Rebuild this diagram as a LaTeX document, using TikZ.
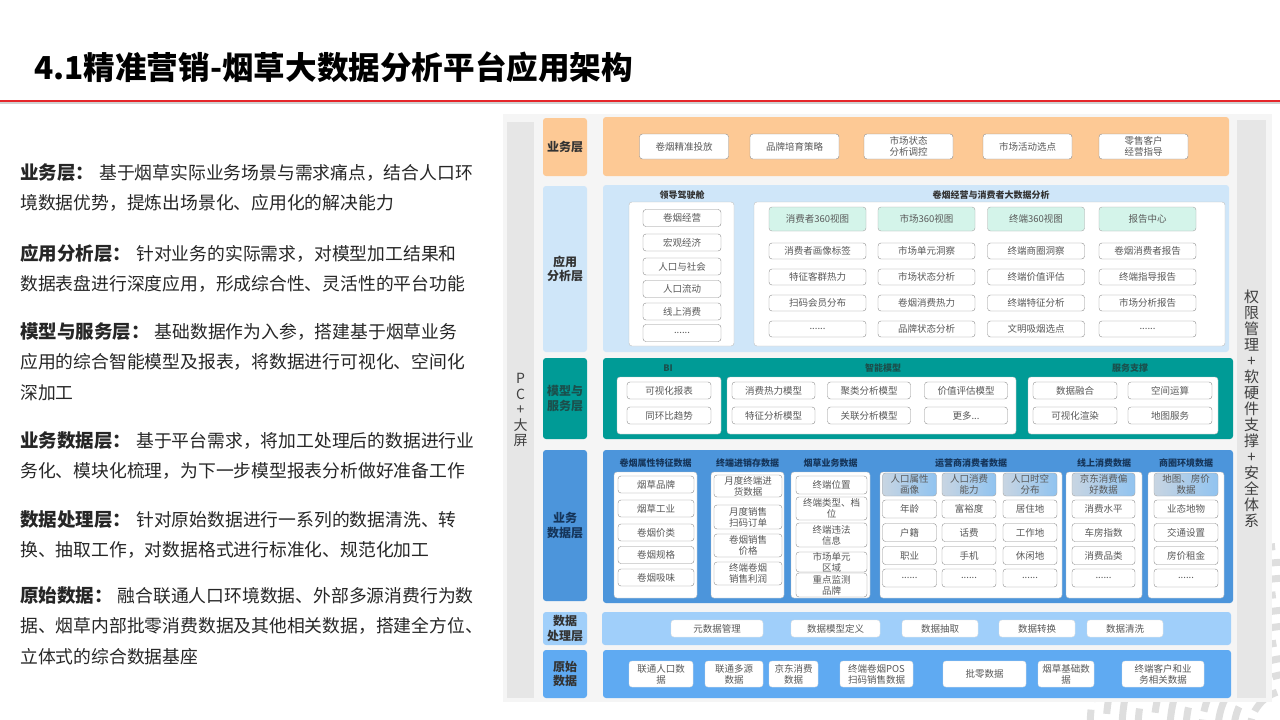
\documentclass[tikz,border=0pt]{standalone}
\usepackage{fontspec}
\setmainfont{Noto Sans CJK SC}
\usetikzlibrary{positioning}

\definecolor{bizorange}{HTML}{FDC995}
\definecolor{applight}{HTML}{CFE6F9}
\definecolor{mint}{HTML}{D4F4EA}
\definecolor{modteal}{HTML}{009B96}
\definecolor{modtext}{HTML}{1B4F4C}
\definecolor{datablue}{HTML}{4C95DB}
\definecolor{datatext}{HTML}{15355A}
\definecolor{proclight}{HTML}{A0CFFA}
\definecolor{rawblue}{HTML}{5FAAF2}
\definecolor{barfill}{HTML}{E6E6E6}
\definecolor{panelbg}{HTML}{F5F5F5}
\definecolor{titlered}{HTML}{E5252A}
\definecolor{headleft}{HTML}{C8D5E2}
\definecolor{headright}{HTML}{90C3F0}

\newcommand{\parhead}[1]{{\bfseries\fontsize{18.5}{30.5}\selectfont #1}\hspace{5pt}}
% dots kept out of \foreach lists
\newcommand{\sixdots}{......}
\newcommand{\threedots}{...}

\begin{document}
\begin{tikzpicture}[
        x=1pt, y=-1pt,
        band/.style={fill=#1, rounded corners=3pt, inner sep=0pt},
        laylab/.style={
            fill=#1,
            rounded corners=3pt,
            minimum width=44,
            inner sep=0pt,
            align=center,
            font=\bfseries\fontsize{12}{14.5}\selectfont
        },
        panel/.style={fill=white, draw=black!25, rounded corners=3pt, inner sep=0pt},
        cell/.style={
            fill=white,
            draw=black!45,
            rounded corners=3pt,
            inner sep=0pt,
            align=center,
            text=black!65,
            minimum height=17,
            font=\fontsize{9.5}{11}\selectfont
        },
        headcell/.style={cell, draw=black!35, left color=headleft, right color=headright},
        mintcell/.style={cell, fill=mint, draw=black!35, minimum height=24},
        grp/.style={font=\bfseries\fontsize{9}{10}\selectfont, text=#1},
        sidebar/.style={fill=barfill, inner sep=0pt, align=center, text=black!75},
        para/.style={
            anchor=north west,
            inner sep=0pt,
            align=left,
            text=black!85,
            font=\fontsize{17.8}{30.5}\selectfont
        }
    ]
    \useasboundingbox (0,0) rectangle (1280,720);

    % heading
    \node[anchor=west, inner sep=0pt, font=\bfseries\fontsize{31.6}{34}\selectfont] (title) at (34,67)
        {4.1精准营销-烟草大数据分析平台应用架构};
    \draw[black!18, line width=2.5] (0,103) -- (1280,103);
    \draw[titlered, line width=2] (0,100.5) -- (1280,100.5);

    % corner ornament
    \begin{scope}
        \clip (1080,540) rectangle (1280,720);
        \foreach \r in {40,56,...,200}
            \draw[black!13, line width=7, dash pattern=on 30pt off 8pt] (1290,730) circle[radius=\r pt];
    \end{scope}

    % left description
    \node[para] (txtbiz) at (20,163)
        {\parhead{业务层：}基于烟草实际业务场景与需求痛点，结合人口环\\境数据优势，提炼出场景化、应用化的解决能力};
    \node[para] (txtapp) at (20,244)
        {\parhead{应用分析层：}针对业务的实际需求，对模型加工结果和\\数据表盘进行深度应用，形成综合性、灵活性的平台功能};
    \node[para] (txtmod) at (20,322)
        {\parhead{模型与服务层：}基础数据作为入参，搭建基于烟草业务\\应用的综合智能模型及报表，将数据进行可视化、空间化\\深加工};
    \node[para] (txtdata) at (20,431)
        {\parhead{业务数据层：}基于平台需求，将加工处理后的数据进行业\\务化、模块化梳理，为下一步模型报表分析做好准备工作};
    \node[para] (txtproc) at (20,510)
        {\parhead{数据处理层：}针对原始数据进行一系列的数据清洗、转\\换、抽取工作，对数据格式进行标准化、规范化加工};
    \node[para] (txtraw) at (20,586)
        {\parhead{原始数据：}融合联通人口环境数据、外部多源消费行为数\\据、烟草内部批零消费数据及其他相关数据，搭建全方位、\\立体式的综合数据基座};

    % architecture frame
    \fill[panelbg] (503,114) rectangle (1272,702);
    \node[sidebar, minimum width=27, minimum height=576, font=\fontsize{14}{15.5}\selectfont] (pcbar)
        at (520.5,410) {P\\C\\+\\大\\屏};
    \node[sidebar, minimum width=29, minimum height=578, font=\fontsize{15}{16}\selectfont] (secbar)
        at (1251.5,409) {权\\限\\管\\理\\+\\软\\硬\\件\\支\\撑\\+\\安\\全\\体\\系};

    % layer labels and bands
    \foreach \y/\h/\c/\tc/\t [count=\i] in {147/58/bizorange/black!80/业务层,
            269/166/applight/black!80/{应用\\分析层},
            398.5/81/modteal/modtext/{模型与\\服务层},
            525.5/151/datablue/datatext/{业务\\数据层},
            628.5/33/proclight/black!80/{数据\\处理层},
            674/48/rawblue/black!80/{原始\\数据}}
        \node[laylab=\c, text=\tc, minimum height=\h] (lay\i) at (565,\y) {\t};

    \foreach \x/\y/\w/\h/\c [count=\i] in {916/146.5/626/59/bizorange,
            916/268.5/626/167/applight,
            918/398.5/630/81/modteal,
            918/526.5/630/153/datablue,
            916.5/628.5/629/33/proclight,
            917/674/628/48/rawblue}
        \node[band=\c, minimum width=\w, minimum height=\h] (band\i) at (\x,\y) {};

    % business layer
    \foreach \x/\t [count=\i] in {684/卷烟精准投放, 794.5/品牌培育策略, 908.5/{市场状态\\分析调控},
            1027.5/市场活动选点, 1143.5/{零售客户\\经营指导}}
        \node[cell, minimum width=89, minimum height=25] (biz\i) at (\x,146.5) {\t};

    % application analysis layer
    \node[grp=black!80] (cockpitt) at (682,195) {领导驾驶舱};
    \node[panel, minimum width=105, minimum height=144] (cockpit) at (681.5,274) {};
    \foreach \y/\t [count=\i] in {218/卷烟经营, 242.5/宏观经济, 266.5/人口与社会,
            289/人口流动, 311.5/线上消费, 333/\sixdots}
        \node[cell, minimum width=78] (cp\i) at (682,\y) {\t};

    \node[grp=black!80] (bigdatat) at (991,195) {卷烟经营与消费者大数据分析};
    \node[panel, minimum width=471, minimum height=144] (bigdata) at (989.5,274) {};
    \foreach \x/\a/\b/\c/\d/\e [count=\i] in {
            817.5/消费者360视图/消费者画像标签/特征客群热力/扫码会员分布/\sixdots,
            926.5/市场360视图/市场单元洞察/市场状态分析/卷烟消费热力/品牌状态分析,
            1036/终端360视图/终端商圈洞察/终端价值评估/终端特征分析/文明吸烟选点,
            1147.5/报告中心/卷烟消费者报告/终端指导报告/市场分析报告/\sixdots} {
        \node[mintcell, minimum width=97] (an\i-0) at (\x,219) {\a};
        \node[cell, minimum width=97, minimum height=16] (an\i-1) at (\x,251) {\b};
        \node[cell, minimum width=97, minimum height=16] (an\i-2) at (\x,277) {\c};
        \node[cell, minimum width=97, minimum height=16] (an\i-3) at (\x,303) {\d};
        \node[cell, minimum width=97, minimum height=16] (an\i-4) at (\x,329) {\e};
    }

    % model and service layer
    \node[grp=modtext] (bit) at (668,368) {BI};
    \node[grp=modtext] (smartt) at (883,368) {智能模型};
    \node[grp=modtext] (servt) at (1130,368) {服务支撑};
    \node[panel, minimum width=104, minimum height=57] (bi) at (669,405.5) {};
    \node[panel, minimum width=289, minimum height=57] (smart) at (871.5,405.5) {};
    \node[panel, minimum width=190, minimum height=57] (serv) at (1123,405.5) {};
    \node[cell, minimum width=84] (bi1) at (669,390.5) {可视化报表};
    \node[cell, minimum width=84] (bi2) at (669,415.5) {同环比趋势};
    \foreach \x/\a/\b [count=\i] in {773.5/消费热力模型/特征分析模型, 869/聚类分析模型/关联分析模型,
            966/价值评估模型/更多\threedots} {
        \node[cell, minimum width=83] (sm\i-1) at (\x,390.5) {\a};
        \node[cell, minimum width=83] (sm\i-2) at (\x,415.5) {\b};
    }
    \foreach \x/\a/\b [count=\i] in {1075/数据融合/可视化渲染, 1170/空间运算/地图服务} {
        \node[cell, minimum width=84] (sv\i-1) at (\x,390.5) {\a};
        \node[cell, minimum width=84] (sv\i-2) at (\x,415.5) {\b};
    }

    % business data layer
    \foreach \x/\w/\t [count=\i] in {655.5/83/卷烟属性特征数据, 747.5/73/终端进销存数据, 830.5/79/烟草业务数据,
            971/182/运营商消费者数据, 1104/76/线上消费数据, 1186/76/商圈环境数据} {
        \node[grp=datatext] (grp\i t) at (\x,463) {\t};
        \node[panel, minimum width=\w, minimum height=126] (grp\i) at (\x,535) {};
    }
    \foreach \y/\t [count=\i] in {484.5/烟草品牌, 508.5/烟草工业, 532.5/卷烟价类, 555/卷烟规格, 577.5/卷烟吸味}
        \node[cell, minimum width=76] (ga\i) at (656,\y) {\t};
    \foreach \y/\h/\t [count=\i] in {486/22/{月度终端进\\货数据}, 517/24/{月度销售\\扫码订单},
            545.5/23/{卷烟销售\\价格}, 573.5/23/{终端卷烟\\销售利润}}
        \node[cell, minimum width=68, minimum height=\h] (gb\i) at (748,\y) {\t};
    \foreach \y/\h/\t [count=\i] in {485/18/终端位置, 508.5/23/{终端类型、档\\位}, 535/24/{终端违法\\信息},
            562/20/{市场单元\\区域}, 585/24/{重点监测\\品牌}}
        \node[cell, minimum width=71, minimum height=\h] (gc\i) at (831.5,\y) {\t};
    \foreach \x/\w/\a/\b/\c/\d [count=\i] in {909.5/54/{人口属性\\画像}/年龄/户籍/职业,
            969/54/{人口消费\\能力}/富裕度/话费/手机,
            1030/54/{人口时空\\分布}/居住地/工作地/休闲地,
            1103.5/63/{京东消费偏\\好数据}/消费水平/车房指数/消费品类,
            1186/64/{地图、房价\\数据}/业态地物/交通设置/房价租金} {
        \node[headcell, minimum width=\w, minimum height=23] (gd\i-0) at (\x,484.5) {\a};
        \node[cell, minimum width=\w, minimum height=18] (gd\i-1) at (\x,509) {\b};
        \node[cell, minimum width=\w, minimum height=18] (gd\i-2) at (\x,532.5) {\c};
        \node[cell, minimum width=\w, minimum height=18] (gd\i-3) at (\x,555.5) {\d};
        \node[cell, minimum width=\w, minimum height=18] (gd\i-4) at (\x,578) {\sixdots};
    }

    % data processing layer
    \foreach \x/\w/\t [count=\i] in {717/92/元数据管理, 835.5/89/数据模型定义, 940/76/数据抽取,
            1037/76/数据转换, 1125/76/数据清洗}
        \node[cell, draw=black!12, minimum width=\w] (proc\i) at (\x,628.5) {\t};

    % raw data layer
    \foreach \x/\w/\t [count=\i] in {661/64/{联通人口数\\据}, 734/58/{联通多源\\数据}, 793.5/49/{京东消费\\数据},
            876.5/73/{终端卷烟POS\\扫码销售数据}, 984.5/83/批零数据, 1066/56/{烟草基础数\\据},
            1163/82/{终端客户和业\\务相关数据}}
        \node[cell, draw=black!12, minimum width=\w, minimum height=26] (raw\i) at (\x,674) {\t};

\end{tikzpicture}
\end{document}
